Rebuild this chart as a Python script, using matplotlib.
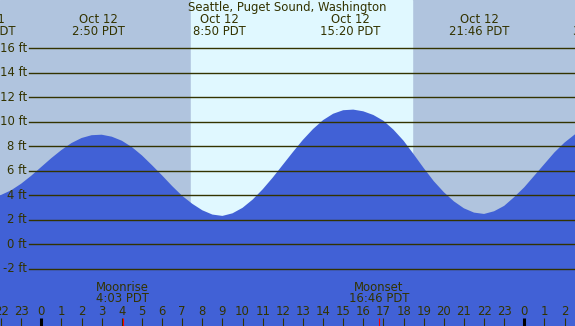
import numpy as np
import matplotlib
matplotlib.use("Agg")
import matplotlib.pyplot as plt

# tide heights (ft), every half hour (hours from midnight Oct 12)
hours = [-2.5, -2.0, -1.5, -1.0, -0.5, 0.0, 0.5, 1.0, 1.5, 2.0, 2.5, 3.0, 3.5, 4.0,
         4.5, 5.0, 5.5, 6.0, 6.5, 7.0, 7.5, 8.0, 8.5, 9.0, 9.5, 10.0, 10.5, 11.0,
         11.5, 12.0, 12.5, 13.0, 13.5, 14.0, 14.5, 15.0, 15.5, 16.0, 16.5, 17.0,
         17.5, 18.0, 18.5, 19.0, 19.5, 20.0, 20.5, 21.0, 21.5, 22.0, 22.5, 23.0,
         23.5, 24.0, 24.5, 25.0, 25.5, 26.0, 26.5, 27.0]
heights = [3.82, 4.02, 4.40, 4.94, 5.59, 6.31, 7.03, 7.69, 8.26, 8.67, 8.90, 8.94, 8.78, 8.45,
           7.93, 7.25, 6.45, 5.62, 4.75, 3.95, 3.30, 2.77, 2.42, 2.31, 2.52, 2.97, 3.64, 4.48,
           5.44, 6.48, 7.52, 8.52, 9.40, 10.13, 10.65, 10.94, 10.99, 10.85, 10.55, 10.08,
           9.35, 8.45, 7.35, 6.22, 5.15, 4.25, 3.50, 2.93, 2.58, 2.47, 2.69, 3.13,
           3.85, 4.65, 5.60, 6.55, 7.50, 8.30, 8.95, 9.50]

# high / low tide labels
event_hours = [-2.77, 2.833, 8.833, 15.333, 21.767, 27.75]
event_days = ["Oct 11", "Oct 12", "Oct 12", "Oct 12", "Oct 12", "Oct 13"]
event_times = ["21:14 PDT", "2:50 PDT", "8:50 PDT", "15:20 PDT", "21:46 PDT", "3:45 PDT"]

sunrise, sunset = 7.42, 18.42
moon_hours = [4.05, 16.77]
moon_names = ["Moonrise", "Moonset"]
moon_times = ["4:03 PDT", "16:46 PDT"]

ft_levels = [-2, 0, 2, 4, 6, 8, 10, 12, 14, 16]
hour_ticks = list(range(-2, 27))

W, H = 575, 326
night = "#B0C4DE"
day = "#E0F8FF"
water = "#4161D6"
ink = "#333300"
fs = 8.4

fig = plt.figure(figsize=(W / 100, H / 100), dpi=100)
ax = fig.add_axes([0, 0, 1, 1])
x0 = -41.3 / 20.125
x1 = (W - 41.3) / 20.125
ax.set_xlim(x0, x1)
ax.set_ylim(-6.68, 19.94)
ax.axis("off")

ax.axvspan(x0, x1, color=night, zorder=0)
ax.axvspan(sunrise, sunset, color=day, zorder=0.5)
ax.fill_between(hours, heights, -10, color=water, lw=0, zorder=1)

for lv in ft_levels:
    ax.axhline(lv, xmin=29 / W, xmax=1, color=ink, lw=1.0, zorder=2)
    ax.text(27 / W, lv, "%d ft" % lv, transform=ax.get_yaxis_transform(),
            ha="right", va="center", fontsize=fs, color=ink)

# hour ticks along the bottom
xt = ax.get_xaxis_transform()
for h in hour_ticks:
    if h % 24 == 0:
        ax.vlines(h, 0, 8 / H, transform=xt, color="black", lw=2.2, zorder=3)
    else:
        ax.vlines(h, 0, 8 / H, transform=xt, color=ink, lw=0.8, zorder=3)
    ax.text(h, 1 - 311.7 / H, str(h % 24), transform=xt, ha="center", va="center",
            fontsize=fs, color=ink)
for mh, name, tm in zip(moon_hours, moon_names, moon_times):
    ax.vlines(mh, 0, 8 / H, transform=xt, color="red", lw=0.8, zorder=3)
    ax.text(mh, 1 - 287.3 / H, name, transform=xt, ha="center", va="center",
            fontsize=fs, color=ink)
    ax.text(mh, 1 - 299.0 / H, tm, transform=xt, ha="center", va="center",
            fontsize=fs, color=ink)

for eh, d, tm in zip(event_hours, event_days, event_times):
    ax.text(eh, 1 - 19.5 / H, d, transform=xt, ha="center", va="center",
            fontsize=fs, color=ink)
    ax.text(eh, 1 - 31.7 / H, tm, transform=xt, ha="center", va="center",
            fontsize=fs, color=ink)

ax.text(287.5 / W, 1 - 7.7 / H, "Seattle, Puget Sound, Washington", transform=ax.transAxes,
        ha="center", va="center", fontsize=fs, color=ink)

fig.savefig("out.png", dpi=100)
